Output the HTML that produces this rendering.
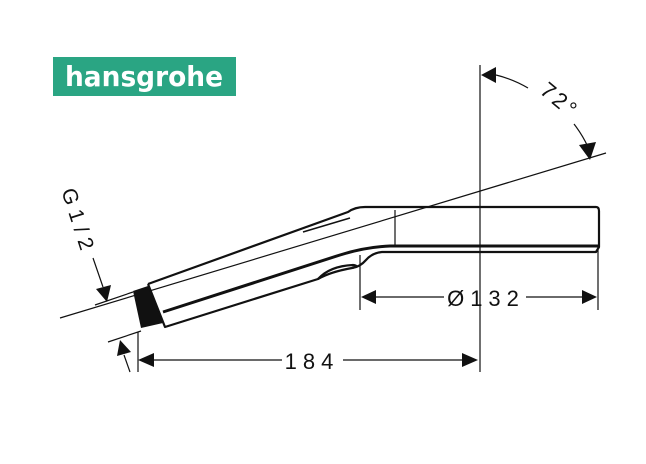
<!DOCTYPE html>
<html><head><meta charset="utf-8"><style>
html,body{margin:0;padding:0;background:#fff;width:646px;height:464px;overflow:hidden}
svg{display:block}
</style></head><body>
<svg width="646" height="464" viewBox="0 0 646 464" xmlns="http://www.w3.org/2000/svg" font-family="Liberation Sans, sans-serif">
<rect x="53" y="57" width="183" height="39" fill="#2aa583"/>
<text x="144" y="86" font-size="28" font-weight="bold" fill="#fff" text-anchor="middle" font-family="DejaVu Sans, sans-serif" textLength="158" lengthAdjust="spacingAndGlyphs">hansgrohe</text>

<g stroke="#111" fill="none" stroke-width="1.2">
<line x1="480" y1="65" x2="480" y2="372"/>
<line x1="60" y1="318" x2="606" y2="153"/>
<line x1="138" y1="332" x2="138" y2="372"/>
<line x1="360" y1="255" x2="360" y2="310"/>
<line x1="598" y1="250" x2="598" y2="310"/>
<line x1="150" y1="360" x2="282" y2="360"/>
<line x1="343" y1="360" x2="470" y2="360"/>
<line x1="372" y1="297" x2="444" y2="297"/>
<line x1="526" y1="297" x2="586" y2="297"/>
<line x1="95" y1="305" x2="133" y2="292"/>
<line x1="108" y1="342" x2="141" y2="331"/>
<line x1="93" y1="258" x2="103" y2="287"/>
<line x1="130" y1="372" x2="124" y2="355"/>
<path d="M496 75 A118 118 0 0 1 528 88"/>
<path d="M574 124 A118 118 0 0 1 588 147"/>
<line x1="395" y1="210" x2="395" y2="246"/>
</g>
<g fill="#111">
<polygon points="138,360 154,353 154,367"/>
<polygon points="478,360 462,353 462,367"/>
<polygon points="361,297 376,290 376,304"/>
<polygon points="597,297 582,290 582,304"/>
<polygon points="481,75 496,67 496,83"/>
<polygon points="590,160 579,145 596,142"/>
<polygon points="107,302 96,289 111,285"/>
<polygon points="120,340 117,356 131,352"/>
<polygon points="133,291 148,286 163,323 141,328"/>
</g>
<g stroke="#111" fill="none" stroke-width="2.2" stroke-linejoin="round">
<path d="M148,284 L348,212 Q355,207 365,207 L596,207 Q599,207 599,211 L599,247 L596,252 L382,252 Q372,253 366,260 Q360,267 352,268 Q330,272 318,279 L165,327 L148,284"/>
<path d="M163,312 L340,255 Q365,247 390,246 L598,246" stroke-width="3"/>
<path d="M318,279 Q330,266 353,265 Q360,266 352,268"/>
<path d="M303,232 L350,218" stroke-width="1.5"/>
</g>
<g font-size="22" fill="#111">
<text x="312" y="369" text-anchor="middle" letter-spacing="6">184</text>
<text x="486" y="306" text-anchor="middle" letter-spacing="6">Ø132</text>
<text transform="translate(555,106) rotate(40)" text-anchor="middle" font-size="22" letter-spacing="3">72°</text>
<text transform="translate(72,224) rotate(72)" text-anchor="middle" font-size="21" letter-spacing="6">G1/2</text>
</g>
</svg>
</body></html>
